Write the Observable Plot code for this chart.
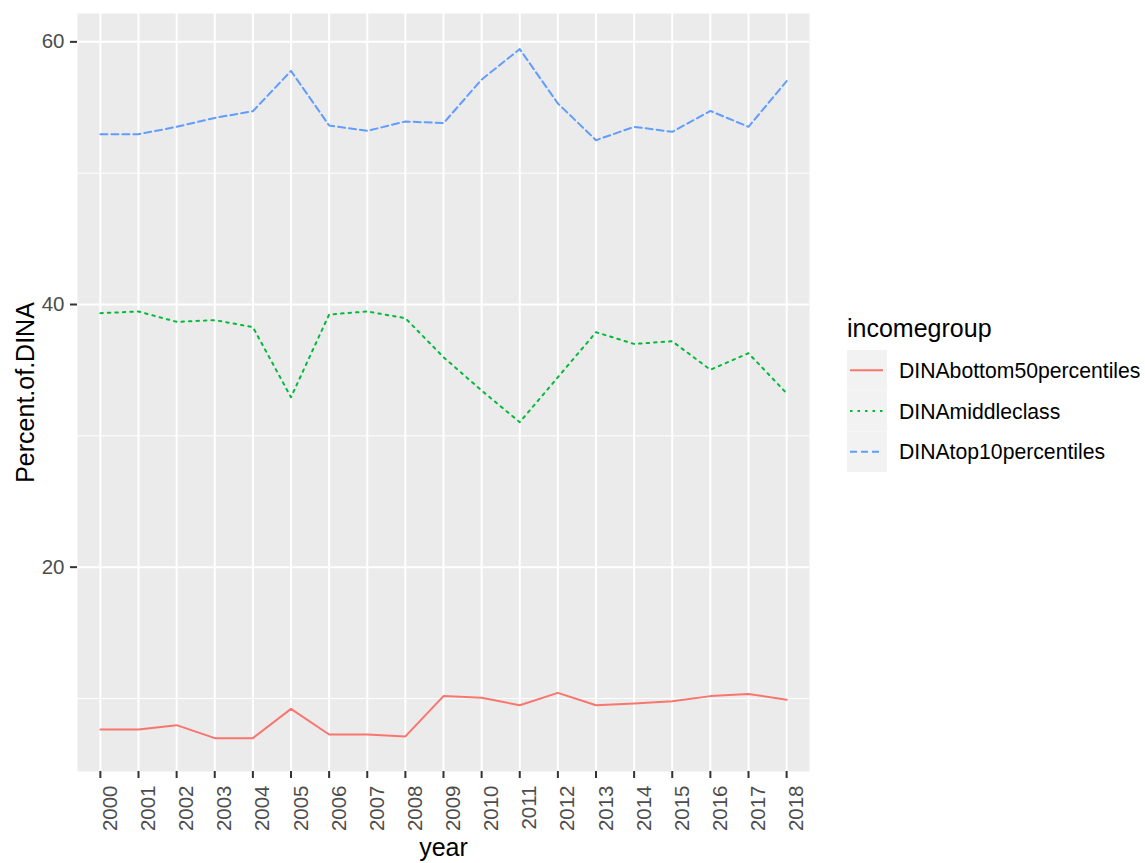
<!DOCTYPE html>
<html><head><meta charset="utf-8">
<script src="https://cdn.jsdelivr.net/npm/d3@7"></script>
<script src="https://cdn.jsdelivr.net/npm/@observablehq/plot@0.6"></script>
<style>body{margin:0;background:#fff;}</style>
</head><body><div id="chart"></div>
<script>
const years = [2000, 2001, 2002, 2003, 2004, 2005, 2006, 2007, 2008, 2009, 2010, 2011, 2012, 2013, 2014, 2015, 2016, 2017, 2018];
const bottom50 = [7.64, 7.64, 7.97, 6.98, 6.98, 9.21, 7.26, 7.26, 7.11, 10.18, 10.05, 9.49, 10.43, 9.49, 9.62, 9.79, 10.18, 10.35, 9.90];
const middleClass = [39.34, 39.47, 38.68, 38.81, 38.28, 32.94, 39.24, 39.47, 38.96, 35.99, 33.45, 31.04, 34.46, 37.89, 37.00, 37.20, 35.03, 36.29, 33.24];
const top10 = [52.97, 52.97, 53.53, 54.21, 54.72, 57.79, 53.63, 53.22, 53.94, 53.81, 57.13, 59.45, 55.31, 52.51, 53.53, 53.15, 54.74, 53.53, 57.01];
const groups = ["DINAbottom50percentiles", "DINAmiddleclass", "DINAtop10percentiles"];
const colors = ["#F8766D", "#00BA38", "#619CFF"];
const dashes = [null, "2.5,5", "7,4"];
const yTicks = [20, 40, 60];
const yMinor = [10, 30, 50];

const seriesValues = [bottom50, middleClass, top10];
const data = groups.flatMap((g, i) => years.map((yr, j) => ({year: yr, value: seriesValues[i][j], group: g})));

const font = "'Liberation Sans', Arial, sans-serif";
const chart = Plot.plot({
  width: 1145, height: 863,
  marginLeft: 77, marginRight: 336, marginTop: 13, marginBottom: 92,
  style: {fontFamily: font, background: "white", color: "black", overflow: "visible"},
  x: {type: "point", domain: years, padding: 0.6, round: false},
  y: {domain: [4.44, 62.16]},
  marks: [
    Plot.frame({fill: "#EBEBEB", stroke: "none"}),
    Plot.ruleY(yMinor, {stroke: "white", strokeWidth: 1}),
    Plot.ruleY(yTicks, {stroke: "white", strokeWidth: 2}),
    Plot.ruleX(years, {stroke: "white", strokeWidth: 2}),
    ...groups.map((g, i) => Plot.line(data.filter(d => d.group === g), {
      x: "year", y: "value", stroke: colors[i], strokeWidth: 2,
      ...(dashes[i] ? {strokeDasharray: dashes[i]} : {})
    })),
    Plot.axisY({ticks: yTicks, tickSize: 7, tickPadding: 6, fontSize: 20.5, fill: "#4D4D4D", stroke: "#333333", strokeWidth: 2, label: null}),
    Plot.axisX({ticks: years, tickSize: 7, tickFormat: () => "", stroke: "#333333", strokeWidth: 2, label: null}),
    Plot.text(years, {x: d => d, frameAnchor: "bottom", dy: 14, dx: 2, rotate: -90, textAnchor: "end", lineAnchor: "top", text: d => String(d), fontSize: 20.5, fill: "#4D4D4D"}),
    Plot.text(["Percent.of.DINA"], {frameAnchor: "left", dx: -44, rotate: -90, textAnchor: "middle", lineAnchor: "bottom", fontSize: 25, fill: "black"}),
    Plot.text(["year"], {frameAnchor: "bottom", dy: 84, textAnchor: "middle", lineAnchor: "bottom", fontSize: 25, fill: "black"})
  ]
});

const svg = d3.select(chart);
const lg = svg.append("g").attr("font-family", font).attr("text-anchor", "start");
lg.append("text").attr("x", 847).attr("y", 336.5).attr("font-size", 25).attr("fill", "black").text("incomegroup");
groups.forEach((g, i) => {
  const cy = 370.3 + i * 40.7;
  lg.append("rect").attr("x", 847).attr("y", cy - 20.35).attr("width", 40).attr("height", 40.7).attr("fill", "#F2F2F2");
  const ln = lg.append("line").attr("x1", 850).attr("x2", 883).attr("y1", cy).attr("y2", cy)
    .attr("stroke", colors[i]).attr("stroke-width", 2);
  if (dashes[i]) ln.attr("stroke-dasharray", dashes[i]);
  lg.append("text").attr("x", 899).attr("y", cy + 7.5).attr("font-size", 21.2).attr("fill", "black").text(g);
});

document.getElementById("chart").appendChild(chart);
</script>
</body></html>
